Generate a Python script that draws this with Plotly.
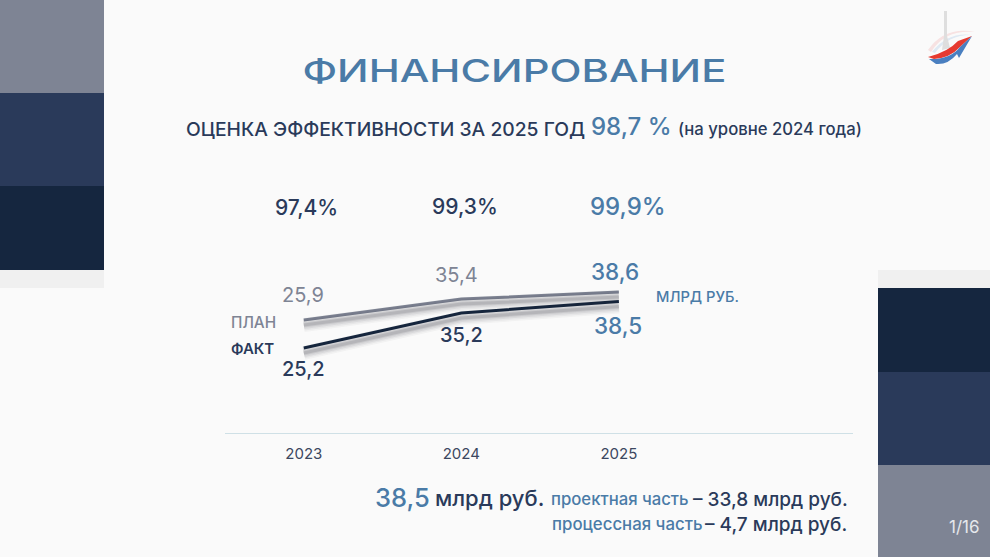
#!/usr/bin/env python3
"""Slide: financing plan vs actual, 2023-2025."""

import plotly.graph_objects as go

W, H = 990, 557

years = [2023, 2024, 2025]
plan = [25.9, 35.4, 38.6]
fact = [25.2, 35.2, 38.5]
percents = ['97,4%', '99,3%', '99,9%']

GREY = '#7e8494'
NAVY = '#2a3a5a'
DARK = '#15263f'
BLUE = '#4a7ba7'
FONT = 'Inter, Roboto, Arial'
TITLE = 'ФИНАНСИРОВАНИЕ'


def px(x):
    return x / W


def py(y):
    return 1 - y / H


def comma(v):
    return f'{v}'.replace('.', ',')


def path(*cmds):
    """Build a paper-coords svg path from (letter, x, y, ...) tuples."""
    out = []
    for c in cmds:
        pts = c[1:]
        xy = [f'{px(pts[i]):.5f},{py(pts[i + 1]):.5f}' for i in range(0, len(pts), 2)]
        out.append(c[0] + ' '.join(xy))
    return ' '.join(out) + ' Z'


def rect(x0, y0, x1, y1, color):
    return dict(type='rect', xref='paper', yref='paper', layer='below',
                x0=px(x0), x1=px(x1), y0=py(y0), y1=py(y1),
                fillcolor=color, line_width=0)


def logo(d, color):
    return dict(type='path', xref='paper', yref='paper', path=d,
                fillcolor=color, line_width=0)


def label(x, y, text, size, color, anchor='center', weight=400):
    return dict(xref='paper', yref='paper', x=px(x), y=py(y), text=text,
                xanchor=anchor, yanchor='middle', showarrow=False, borderpad=0,
                font=dict(family=FONT, size=size, color=color, weight=weight))


# px per value on each line's own scale (the slide draws them unequal)
PLOT_TOP, PLOT_BOTTOM = 250, 433
fact_range = [0.91, 53.2]
plan_range = [-25.46, 57.72]
shadow_px = 5
fact_shift = shadow_px / 3.5
plan_shift = shadow_px / 2.2

fig = go.Figure()

for width, alpha in [(14, 0.04), (11, 0.05), (8, 0.07), (5, 0.09), (3, 0.12)]:
    shadow = f'rgba(40,40,50,{alpha})'
    fig.add_trace(go.Scatter(x=years, y=plan, mode='lines', yaxis='y3',
                             line=dict(color=shadow, width=width), hoverinfo='skip'))
    fig.add_trace(go.Scatter(x=years, y=fact, mode='lines', yaxis='y4',
                             line=dict(color=shadow, width=width), hoverinfo='skip'))

fig.add_trace(go.Scatter(x=years, y=plan, mode='lines', name='ПЛАН', yaxis='y2',
                         line=dict(color=GREY, width=3)))
fig.add_trace(go.Scatter(x=years, y=fact, mode='lines', name='ФАКТ', yaxis='y',
                         line=dict(color=DARK, width=3)))

shapes = [
    rect(0, 0, 104, 93, GREY),
    rect(0, 93, 104, 186, NAVY),
    rect(0, 186, 104, 270, DARK),
    rect(0, 270, 104, 288, '#f0f0f0'),
    rect(878, 270, 990, 288, '#f0f0f0'),
    rect(878, 288, 990, 372, DARK),
    rect(878, 372, 990, 465, NAVY),
    rect(878, 465, 990, 557, GREY),
    # logo
    logo(path(('M', 928, 50), ('Q', 945, 26, 975, 32), ('Q', 945, 29, 931, 52)), '#f7e2e2'),
    logo(path(('M', 932, 52), ('Q', 948, 32, 971, 35), ('Q', 948, 35, 935, 53)), '#dfe9f3'),
    logo(path(('M', 944, 11), ('L', 947, 11), ('L', 947, 36), ('L', 950, 48),
              ('L', 942, 50), ('L', 944, 36)), '#dedede'),
    logo(path(('M', 928, 57), ('Q', 948, 52, 958, 41), ('L', 972, 36),
              ('L', 960, 47), ('Q', 950, 58, 934, 59)), '#e63a30'),
    logo(path(('M', 929, 59), ('Q', 950, 60, 960, 47), ('L', 972, 36), ('L', 959, 58),
              ('L', 957, 54), ('Q', 948, 65, 936, 64)), '#4a7fc0'),
]

annotations = [
    label(514, 70, TITLE, 31.6, BLUE, weight=500),
    label(185, 129, 'ОЦЕНКА ЭФФЕКТИВНОСТИ ЗА 2025 ГОД', 19.3, NAVY, 'left', 500),
    label(590, 126, '98,7 %', 24, BLUE, 'left', 500),
    label(677, 129, '(на уровне 2024 года)', 16.7, NAVY, 'left', 500),
    label(306, 207, percents[0], 21, NAVY, weight=500),
    label(465, 206, percents[1], 21, NAVY, weight=500),
    label(628, 206, percents[2], 24, BLUE, weight=500),
    label(303, 295, comma(plan[0]), 20, GREY),
    label(456, 275, comma(plan[1]), 20, GREY),
    label(615, 271, comma(plan[2]), 22.5, BLUE, weight=500),
    label(303, 369, comma(fact[0]), 20, NAVY, weight=500),
    label(461, 335, comma(fact[1]), 20, NAVY, weight=500),
    label(618, 325, comma(fact[2]), 22.5, BLUE, weight=500),
    label(230, 322, 'ПЛАН', 15.3, GREY, 'left', 500),
    label(230, 348, 'ФАКТ', 15, NAVY, 'left', 600),
    label(655, 297, 'МЛРД РУБ.', 14.7, BLUE, 'left', 500),
    label(374, 497, comma(fact[2]), 25.5, BLUE, 'left', 500),
    label(434, 498, 'млрд руб.', 22, NAVY, 'left', 500),
    label(550, 499, 'проектная часть', 16.7, BLUE, 'left', 500),
    label(692, 499, '– 33,8 млрд руб.', 19, NAVY, 'left', 500),
    label(551, 524, 'процессная часть', 16.8, BLUE, 'left', 500),
    label(704, 524, '– 4,7 млрд руб.', 19, NAVY, 'left', 500),
    label(964, 527, '1/16', 17, '#e6e8ec'),
]

y_domain = [py(PLOT_BOTTOM), py(PLOT_TOP)]
hidden = dict(domain=y_domain, visible=False, overlaying='y', anchor='x')

fig.update_layout(
    width=W, height=H,
    margin=dict(l=0, r=0, t=0, b=0),
    paper_bgcolor='#fafafa',
    plot_bgcolor='rgba(0,0,0,0)',
    showlegend=False,
    xaxis=dict(domain=[px(225), px(853)], range=[2022.5, 2026.486],
               tickvals=years, ticktext=[str(y) for y in years],
               ticks='outside', ticklen=7, tickcolor='rgba(0,0,0,0)',
               showgrid=False, zeroline=False, showline=True,
               linecolor='#cfe0e6', linewidth=1,
               tickfont=dict(family=FONT, size=15, color='#3c4760')),
    yaxis=dict(domain=y_domain, range=fact_range, visible=False),
    yaxis2=dict(range=plan_range, **hidden),
    yaxis3=dict(range=[plan_range[0] + plan_shift, plan_range[1] + plan_shift], **hidden),
    yaxis4=dict(range=[fact_range[0] + fact_shift, fact_range[1] + fact_shift], **hidden),
    shapes=shapes,
    annotations=annotations,
)

# the title face is an extended one; stretch the real text to the same width
post = """
document.body.style.margin = '0';
document.querySelectorAll('.annotation-text').forEach(function (t) {
  if (t.textContent === '%s') {
    t.setAttribute('textLength', '424');
    t.setAttribute('lengthAdjust', 'spacingAndGlyphs');
  }
});
""" % TITLE

fig.write_html('out.html', post_script=post, config={'displayModeBar': False})
